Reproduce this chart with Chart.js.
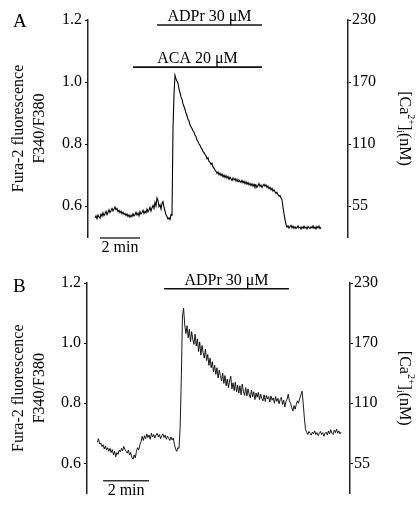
<!DOCTYPE html>
<html>
<head>
<meta charset="utf-8">
<script src="https://cdn.jsdelivr.net/npm/chart.js@4.4.1/dist/chart.umd.min.js"></script>
<style>
  body { margin: 0; background: #fff; }
  #wrap { position: relative; width: 420px; height: 506px; }
  canvas { position: absolute; left: 0; }
</style>
</head>
<body>
<div id="wrap">
  <canvas id="chartA" width="420" height="262" style="top:0"></canvas>
  <canvas id="chartB" width="420" height="256" style="top:250px"></canvas>
</div>
<script>
// left axis (F340/F380) ticks and the matching [Ca2+]i labels on the right
const ratioTicks = [0.6, 0.8, 1.0, 1.2];
const caTicks = [55, 110, 170, 230];
const scaleBarMin = 2; // minutes

// panel A - ratio sampled every 0.05 min starting at 0.35 min
const startA = 0.35;
const stepA = 0.05;
const ratioA = [
  0.562, 0.568, 0.559, 0.571, 0.565, 0.561, 0.574, 0.567, 0.578, 0.569,
  0.576, 0.583, 0.572, 0.580, 0.588, 0.579, 0.585, 0.592, 0.584, 0.590,
  0.597, 0.588, 0.592, 0.582, 0.586, 0.578, 0.583, 0.575, 0.580, 0.573,
  0.576, 0.569, 0.574, 0.566, 0.571, 0.564, 0.570, 0.566, 0.575, 0.568,
  0.572, 0.580, 0.571, 0.577, 0.568, 0.582, 0.574, 0.579, 0.586, 0.576,
  0.583, 0.578, 0.590, 0.581, 0.587, 0.596, 0.584, 0.594, 0.602, 0.592,
  0.612, 0.600, 0.626, 0.618, 0.598, 0.604, 0.590, 0.608, 0.614, 0.596,
  0.584, 0.572, 0.566, 0.558, 0.562, 0.556, 0.572, 0.570, 0.850, 0.960,
  1.022, 1.010, 1.002, 0.996, 0.978, 0.966, 0.952, 0.944, 0.930, 0.921,
  0.912, 0.900, 0.891, 0.880, 0.874, 0.862, 0.856, 0.850, 0.842, 0.838,
  0.829, 0.824, 0.812, 0.808, 0.800, 0.796, 0.788, 0.784, 0.775, 0.772,
  0.766, 0.762, 0.752, 0.756, 0.744, 0.741, 0.734, 0.738, 0.726, 0.722,
  0.716, 0.712, 0.705, 0.710, 0.701, 0.706, 0.698, 0.703, 0.694, 0.700,
  0.692, 0.698, 0.690, 0.695, 0.686, 0.693, 0.688, 0.682, 0.690, 0.684,
  0.689, 0.680, 0.686, 0.678, 0.684, 0.680, 0.676, 0.683, 0.675, 0.680,
  0.672, 0.678, 0.670, 0.676, 0.668, 0.673, 0.666, 0.672, 0.664, 0.670,
  0.662, 0.668, 0.660, 0.666, 0.672, 0.663, 0.668, 0.660, 0.666, 0.670,
  0.664, 0.668, 0.660, 0.664, 0.656, 0.660, 0.652, 0.657, 0.648, 0.652,
  0.646, 0.640, 0.644, 0.636, 0.632, 0.634, 0.626, 0.620, 0.596, 0.575,
  0.556, 0.540, 0.532, 0.536, 0.529, 0.534, 0.538, 0.530, 0.535, 0.528,
  0.533, 0.527, 0.531, 0.536, 0.529, 0.532, 0.526, 0.533, 0.528, 0.535,
  0.529, 0.532, 0.526, 0.534, 0.530, 0.527, 0.533, 0.529, 0.536, 0.528,
  0.532, 0.526, 0.534, 0.529, 0.535, 0.527, 0.531
];
const drugsA = ['ADPr 30 μM', 'ACA 20 μM'];
const drugOnA = [3.45, 2.25];
const drugOffA = [8.7, 8.7];

// panel B - ratio sampled every 0.05 min starting at 0.45 min
const startB = 0.45;
const stepB = 0.05;
const ratioB = [
  0.670, 0.682, 0.664, 0.668, 0.656, 0.662, 0.648, 0.658, 0.644, 0.652,
  0.640, 0.650, 0.636, 0.646, 0.628, 0.640, 0.622, 0.636, 0.630, 0.644,
  0.638, 0.650, 0.642, 0.656, 0.646, 0.640, 0.634, 0.644, 0.628, 0.636,
  0.620, 0.614, 0.628, 0.618, 0.640, 0.652, 0.644, 0.662, 0.672, 0.690,
  0.676, 0.692, 0.682, 0.698, 0.686, 0.694, 0.680, 0.700, 0.688, 0.696,
  0.684, 0.694, 0.700, 0.688, 0.696, 0.682, 0.692, 0.698, 0.686, 0.694,
  0.680, 0.690, 0.684, 0.676, 0.688, 0.678, 0.684, 0.664, 0.648, 0.640,
  0.652, 0.650, 0.720, 0.880, 1.090, 1.116, 1.060, 1.032, 1.058, 1.018,
  1.046, 1.004, 1.038, 1.012, 0.996, 1.030, 0.990, 1.014, 0.972, 1.004,
  0.960, 0.992, 0.968, 0.950, 0.980, 0.942, 0.962, 0.926, 0.950, 0.918,
  0.938, 0.904, 0.926, 0.896, 0.918, 0.884, 0.910, 0.892, 0.874, 0.900,
  0.866, 0.892, 0.858, 0.880, 0.852, 0.874, 0.890, 0.848, 0.868, 0.842,
  0.870, 0.838, 0.860, 0.834, 0.858, 0.828, 0.864, 0.840, 0.826, 0.852,
  0.824, 0.848, 0.830, 0.818, 0.844, 0.822, 0.838, 0.812, 0.834, 0.820,
  0.836, 0.812, 0.830, 0.816, 0.808, 0.828, 0.806, 0.826, 0.814, 0.822,
  0.804, 0.824, 0.810, 0.818, 0.800, 0.822, 0.806, 0.816, 0.798, 0.812,
  0.820, 0.796, 0.810, 0.788, 0.806, 0.814, 0.830, 0.808, 0.800, 0.786,
  0.774, 0.792, 0.780, 0.796, 0.808, 0.800, 0.816, 0.828, 0.840, 0.800,
  0.752, 0.712, 0.704, 0.696, 0.706, 0.700, 0.694, 0.704, 0.698, 0.708,
  0.696, 0.702, 0.692, 0.700, 0.706, 0.696, 0.702, 0.690, 0.700, 0.704,
  0.694, 0.708, 0.698, 0.712, 0.700, 0.696, 0.710, 0.702, 0.714, 0.700,
  0.708, 0.698, 0.704
];
const drugsB = ['ADPr 30 μM'];
const drugOnB = [3.35];
const drugOffB = [8.78];

const serif = "'Liberation Serif', 'Times New Roman', serif";

function caLabel(v) {
  const i = ratioTicks.findIndex(r => Math.abs(r - v) < 1e-6);
  return i < 0 ? '' : caTicks[i];
}

// text that Chart.js has no slot for: drug labels, scale bar, axis titles
const textPlugin = {
  id: 'panelText',
  afterDraw(chart) {
    const o = chart.options.plugins.panelText;
    const ctx = chart.ctx;
    const xs = chart.scales.x, ys = chart.scales.y;
    const area = chart.chartArea;
    ctx.save();
    ctx.fillStyle = '#000';
    ctx.font = '16px ' + serif;
    ctx.textAlign = 'center';
    ctx.textBaseline = 'alphabetic';
    o.drugs.forEach((d, i) => {
      const cx = xs.getPixelForValue((o.on[i] + o.off[i]) / 2);
      ctx.fillText(d, cx, ys.getPixelForValue(o.barY[i]) - 4);
    });
    ctx.fillText(scaleBarMin + ' min', xs.getPixelForValue(o.sbX + scaleBarMin / 2),
      ys.getPixelForValue(o.sbY) + 14);

    ctx.font = '19px ' + serif;
    ctx.textAlign = 'left';
    ctx.fillText(o.letter, 13, o.letterY);

    const cy = (area.top + area.bottom) / 2;
    ctx.font = '16px ' + serif;
    ctx.textAlign = 'center';
    ctx.textBaseline = 'middle';
    ctx.save();
    ctx.translate(19, cy);
    ctx.rotate(-Math.PI / 2);
    ctx.fillText('Fura-2 fluorescence', 0, 0);
    ctx.restore();
    ctx.save();
    ctx.translate(40, cy);
    ctx.rotate(-Math.PI / 2);
    ctx.fillText('F340/F380', 0, 0);
    ctx.restore();

    // [Ca2+]i (nM), reading downwards
    const parts = [
      { t: '[Ca', s: 16, dy: 0 },
      { t: '2+', s: 10, dy: -7 },
      { t: ']', s: 16, dy: 0 },
      { t: 'i', s: 10, dy: 4 },
      { t: '(nM)', s: 16, dy: 0 }
    ];
    let total = 0;
    parts.forEach(p => { ctx.font = p.s + 'px ' + serif; p.w = ctx.measureText(p.t).width; total += p.w; });
    ctx.save();
    ctx.translate(404, cy);
    ctx.rotate(Math.PI / 2);
    ctx.textAlign = 'left';
    let px = -total / 2;
    parts.forEach(p => {
      ctx.font = p.s + 'px ' + serif;
      ctx.fillText(p.t, px, p.dy);
      px += p.w;
    });
    ctx.restore();
    ctx.restore();
  }
};

function panel(id, o) {
  const trace = o.ratio.map((v, i) => ({ x: o.start + i * o.step, y: v }));
  const datasets = [{
    data: trace, borderColor: '#000', borderWidth: o.lw, pointRadius: 0, tension: 0
  }];
  o.drugs.forEach((d, i) => {
    datasets.push({
      data: [{ x: o.on[i], y: o.barY[i] }, { x: o.off[i], y: o.barY[i] }],
      borderColor: '#111', borderWidth: 1.6, pointRadius: 0
    });
  });
  datasets.push({
    data: [{ x: o.sbX, y: o.sbY }, { x: o.sbX + scaleBarMin, y: o.sbY }],
    borderColor: '#333', borderWidth: 1.6, pointRadius: 0
  });
  datasets.forEach(ds => { ds.clip = false; });

  const tickFont = { family: serif, size: 16 };
  new Chart(document.getElementById(id), {
    type: 'line',
    data: { datasets: datasets },
    plugins: [textPlugin],
    options: {
      responsive: false,
      animation: false,
      layout: { padding: { top: o.top, bottom: o.bottom, left: 0, right: 0 } },
      plugins: {
        legend: { display: false },
        tooltip: { enabled: false },
        panelText: o
      },
      scales: {
        x: { type: 'linear', display: false, min: 0, max: o.xMax },
        y: {
          position: 'left', min: 0.5, max: 1.2,
          afterBuildTicks: s => { s.ticks = ratioTicks.map(v => ({ value: v })); },
          afterFit: s => { s.width = o.left; },
          ticks: { color: '#000', font: tickFont, padding: 3, callback: v => v.toFixed(1) },
          grid: { drawOnChartArea: false, tickLength: 3, color: '#000' },
          border: { color: '#222', width: 1.5 }
        },
        y2: {
          position: 'right', min: 0.5, max: 1.2,
          afterBuildTicks: s => { s.ticks = ratioTicks.map(v => ({ value: v })); },
          afterFit: s => { s.width = 420 - o.right; },
          ticks: { color: '#000', font: tickFont, padding: 1, callback: v => caLabel(v) },
          grid: { drawOnChartArea: false, tickLength: 3, color: '#000' },
          border: { color: '#222', width: 1.5 }
        }
      }
    }
  });
}

panel('chartA', {
  ratio: ratioA, start: startA, step: stepA, lw: 1.1,
  drugs: drugsA, on: drugOnA, off: drugOffA, barY: [1.184, 1.048],
  sbX: 0.6, sbY: 0.497,
  left: 88, right: 348, xMax: 13, top: 20, bottom: 25,
  letter: 'A', letterY: 27
});

panel('chartB', {
  ratio: ratioB, start: startB, step: stepB, lw: 0.9,
  drugs: drugsB, on: drugOnB, off: drugOffB, barY: [1.181],
  sbX: 0.7, sbY: 0.542,
  left: 87, right: 350, xMax: 263 / 23, top: 33, bottom: 6,
  letter: 'B', letterY: 42
});
</script>
</body>
</html>
